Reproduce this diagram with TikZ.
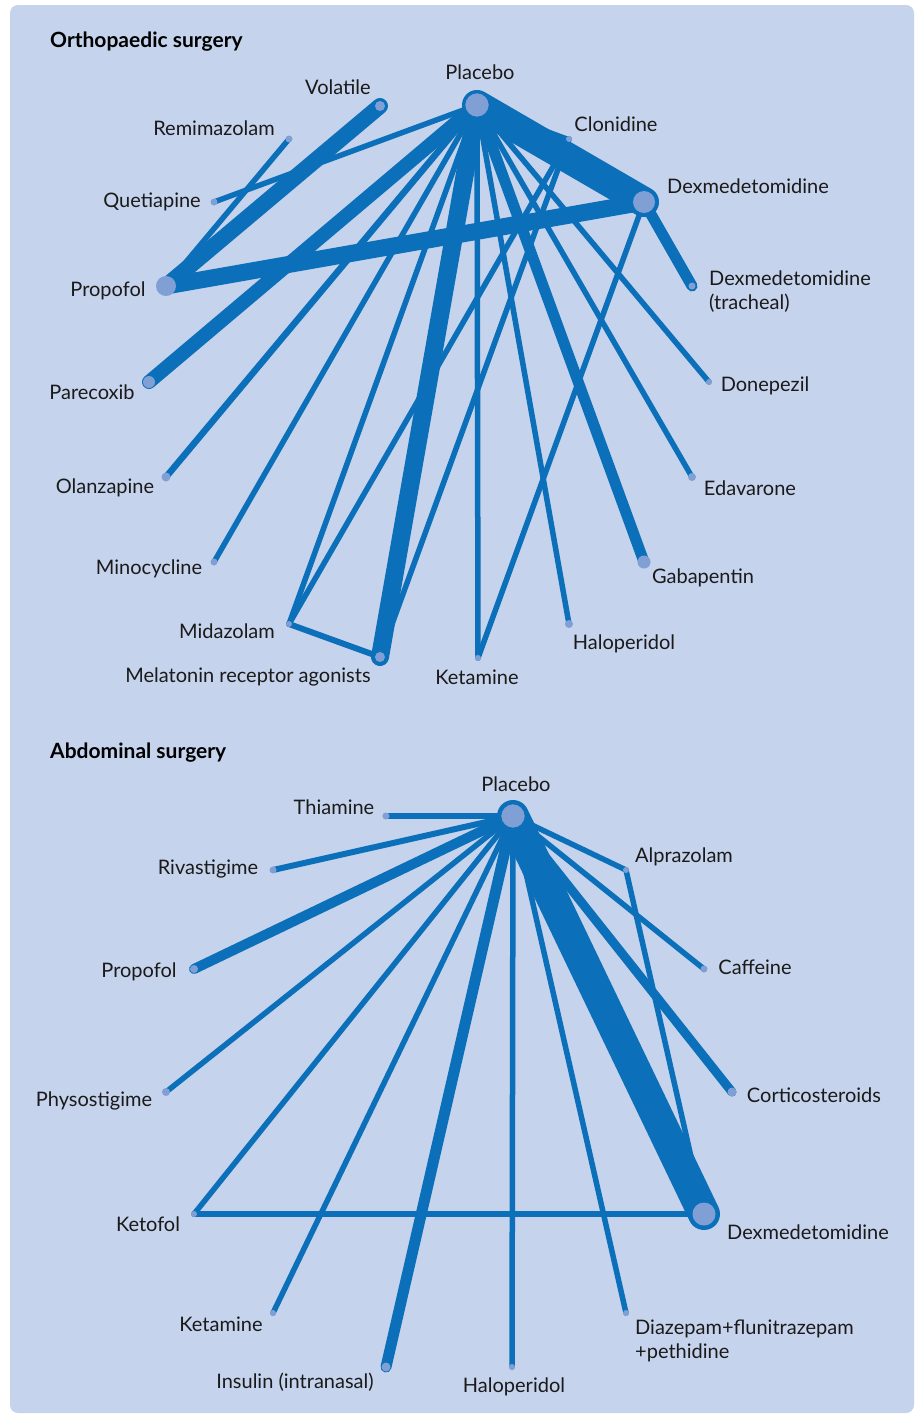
\documentclass[tikz,border=0pt]{standalone}
\usepackage{fontspec}
\setmainfont{Lato}
\definecolor{panel}{HTML}{C6D3EC}
\definecolor{lb}{HTML}{0B70B9}
\definecolor{nf}{HTML}{7F9FD5}
\definecolor{txt}{HTML}{1A1A1A}
\pgfdeclarelayer{back}
\pgfdeclarelayer{edges}
\pgfsetlayers{back,edges,main}
\begin{document}
\begin{tikzpicture}[x=1pt,y=-1pt,
  edge/.style={draw=lb, line cap=round},
  thin/.style={edge, line width=5.5pt},
  dot/.style={circle, fill=nf, inner sep=0pt, minimum size=#1},
  dot/.default=6pt,
  big/.style={draw=lb, line width=2.5pt},
  lab/.style={font=\fontsize{20}{24}\selectfont, inner sep=0pt, text=txt},
  ttl/.style={font=\fontsize{21}{25}\selectfont\bfseries, inner sep=0pt, anchor=west, text=black}]
\useasboundingbox (0,0) rectangle (916,1414);
\begin{pgfonlayer}{back}
\fill[white] (0,0) rectangle (916,1414);
\fill[panel, rounded corners=8pt] (10,5) rectangle (914,1413);
\end{pgfonlayer}

% ---------------- Orthopaedic surgery ----------------
\node[ttl] (t1) at (50,42) {Orthopaedic surgery};
\node[dot=26pt, big] (oP) at (477,105) {};
\node[dot=10pt] (oVol) at (380,106) {};
\node[dot=7pt] (oRem) at (289,139) {};
\node[dot=7pt] (oQue) at (214,202) {};
\node[dot=20pt] (oPro) at (166,286) {};
\node[dot=12pt] (oPar) at (149,382) {};
\node[dot=9pt] (oOla) at (166,477) {};
\node[dot=7pt] (oMin) at (214,562) {};
\node[dot=6pt] (oMid) at (289,624) {};
\node[dot=10pt] (oMel) at (380,657) {};
\node[dot=6pt] (oKet) at (478,658) {};
\node[dot=8pt] (oHal) at (569,624) {};
\node[dot=13pt] (oGab) at (644,562) {};
\node[dot=8pt] (oEda) at (692,477) {};
\node[dot=6pt] (oDon) at (709,382) {};
\node[dot=7pt] (oDxt) at (692,286) {};
\node[dot=22pt] (oDex) at (644,202) {};
\node[dot=6pt] (oClo) at (569,139) {};

\node[lab] (loP) at (480,72) {Placebo};
\node[lab] (loVol) at (338,87) {Volatile};
\node[lab] (loRem) at (214,128) {Remimazolam};
\node[lab] (loQue) at (152,202) {Quetiapine};
\node[lab] (loPro) at (108,291) {Propofol};
\node[lab] (loPar) at (92,392) {Parecoxib};
\node[lab] (loOla) at (105,488) {Olanzapine};
\node[lab] (loMin) at (149,569) {Minocycline};
\node[lab] (loMid) at (227,631) {Midazolam};
\node[lab] (loMel) at (248,677) {Melatonin receptor agonists};
\node[lab] (loKet) at (477,677) {Ketamine};
\node[lab] (loHal) at (624,644) {Haloperidol};
\node[lab] (loGab) at (703,578) {Gabapentin};
\node[lab] (loEda) at (750,488) {Edavarone};
\node[lab] (loDon) at (765,386) {Donepezil};
\node[lab, anchor=west, align=left] (loDxt) at (709,291.5) {Dexmedetomidine\\(tracheal)};
\node[lab] (loDex) at (748,186) {Dexmedetomidine};
\node[lab] (loClo) at (616,124) {Clonidine};

\begin{pgfonlayer}{edges}
\draw[edge, line width=30pt] (oP.center) -- (oDex.center);
\draw[thin, line width=4pt] (oP.center) -- (oClo.center);
\draw[thin] (oP.center) -- (oQue.center);
\draw[edge, line width=16pt] (oVol.center) -- (oPro.center);
\draw[thin] (oRem.center) -- (oPro.center);
\draw[edge, line width=17pt] (oPro.center) -- (oDex.center);
\draw[edge, line width=14pt] (oP.center) -- (oPar.center);
\draw[edge, line width=6.5pt] (oP.center) -- (oOla.center);
\draw[thin] (oP.center) -- (oMin.center);
\draw[thin] (oP.center) -- (oMid.center);
\draw[edge, line width=18pt] (oP.center) -- (oMel.center);
\draw[thin] (oP.center) -- (oKet.center);
\draw[thin] (oP.center) -- (oHal.center);
\draw[edge, line width=11pt] (oP.center) -- (oGab.center);
\draw[thin] (oP.center) -- (oEda.center);
\draw[thin] (oP.center) -- (oDon.center);
\draw[edge, line width=11pt] (oDex.center) -- (oDxt.center);
\draw[thin] (oDex.center) -- (oKet.center);
\draw[thin] (oClo.center) -- (oMid.center);
\draw[thin] (oClo.center) -- (oMel.center);
\draw[edge, line width=6pt] (oMid.center) -- (oMel.center);
\end{pgfonlayer}

% ---------------- Abdominal surgery ----------------
\node[ttl] (t2) at (50,753) {Abdominal surgery};
\node[dot=26pt, big] (aP) at (513,816) {};
\node[dot=7pt] (aThi) at (386,816) {};
\node[dot=7pt] (aRiv) at (273,870) {};
\node[dot=8pt] (aPro) at (194,969) {};
\node[dot=8pt] (aPhy) at (166,1092) {};
\node[dot=6pt] (aKef) at (194,1214) {};
\node[dot=6pt] (aKet) at (273,1313) {};
\node[dot=9pt] (aIns) at (386,1367) {};
\node[dot=6pt] (aHal) at (512,1367) {};
\node[dot=6pt] (aDia) at (626,1313) {};
\node[dot=23pt] (aDex) at (704,1214) {};
\node[dot=9pt] (aCor) at (732,1092) {};
\node[dot=7pt] (aCaf) at (704,969) {};
\node[dot=6pt] (aAlp) at (626,870) {};

\node[lab] (laP) at (516,784) {Placebo};
\node[lab] (laThi) at (334,807) {Thiamine};
\node[lab] (laRiv) at (208,869) {Rivastigime};
\node[lab] (laPro) at (139,972) {Propofol};
\node[lab] (laPhy) at (94,1101) {Physostigime};
\node[lab] (laKef) at (148,1224) {Ketofol};
\node[lab] (laKet) at (221,1324) {Ketamine};
\node[lab] (laIns) at (295,1382) {Insulin (intranasal)};
\node[lab] (laHal) at (514,1387) {Haloperidol};
\node[lab, anchor=west, align=left] (laDia) at (635,1341) {Diazepam+flunitrazepam\\+pethidine};
\node[lab] (laDex) at (808,1232) {Dexmedetomidine};
\node[lab] (laCor) at (814,1095) {Corticosteroids};
\node[lab] (laCaf) at (755,967) {Caffeine};
\node[lab] (laAlp) at (684,857) {Alprazolam};

\begin{pgfonlayer}{edges}
\draw[edge, line width=6.5pt] (aP.center) -- (aThi.center);
\draw[edge, line width=6pt] (aP.center) -- (aRiv.center);
\draw[edge, line width=10pt] (aP.center) -- (aPro.center);
\draw[thin] (aP.center) -- (aPhy.center);
\draw[thin] (aP.center) -- (aKef.center);
\draw[thin] (aP.center) -- (aKet.center);
\draw[edge, line width=11pt] (aP.center) -- (aIns.center);
\draw[thin] (aP.center) -- (aHal.center);
\draw[thin] (aP.center) -- (aDia.center);
\draw[edge, line width=32pt] (aP.center) -- (aDex.center);
\draw[edge, line width=9pt] (aP.center) -- (aCor.center);
\draw[thin] (aP.center) -- (aCaf.center);
\draw[thin] (aP.center) -- (aAlp.center);
\draw[thin] (aAlp.center) -- (aDex.center);
\draw[thin] (aKef.center) -- (aDex.center);
\end{pgfonlayer}
\end{tikzpicture}
\end{document}
